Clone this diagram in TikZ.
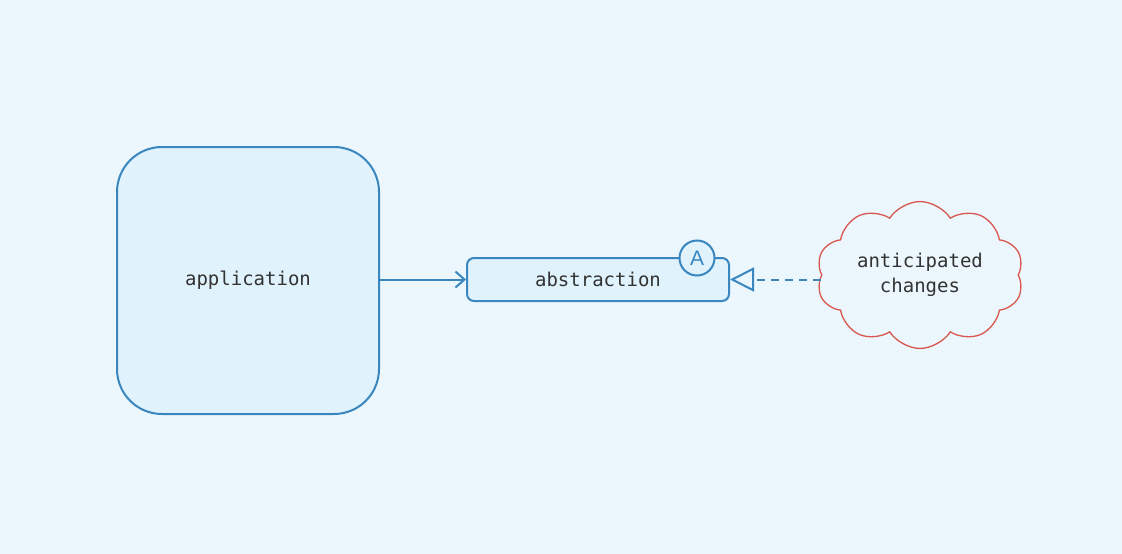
\documentclass[tikz,border=0pt]{standalone}
\usepackage{fontspec}
\setmonofont{DejaVu Sans Mono}
\newfontfamily\labelfont{Liberation Sans}
\usetikzlibrary{shapes.symbols,arrows.meta}
\definecolor{bg}{HTML}{EBF7FD}
\definecolor{boxfill}{HTML}{E0F2FC}
\definecolor{blueline}{HTML}{3A87BF}
\definecolor{redline}{HTML}{D9564F}
\definecolor{txt}{HTML}{333333}
\begin{document}
\begin{tikzpicture}[x=1pt,y=-1pt,
  box/.style={draw=blueline,fill=boxfill,line width=2pt,text=txt,font=\ttfamily\fontsize{19}{23}\selectfont},
  conn/.style={draw=blueline,line width=2pt}]
\fill[bg] (0,0) rectangle (1122,554);
\useasboundingbox (0,0) rectangle (1122,554);
\node[box,rounded corners=45pt,minimum width=262pt,minimum height=267pt] (app) at (248,280.5) {application};
\node[box,rounded corners=7pt,minimum width=262pt,minimum height=43pt] (abs) at (598,279.5) {abstraction};
\node[draw=blueline,fill=boxfill,line width=2pt,circle,minimum size=35pt,inner sep=0pt,text=blueline,font=\labelfont\fontsize{21}{24}\selectfont] (A) at (697,258) {A};
\node[cloud,cloud puffs=10,cloud puff arc=115,aspect=1.45,draw=redline,fill=bg,line width=1.3pt,minimum width=207pt,minimum height=144pt,inner sep=0pt,align=center,text=txt,font=\ttfamily\fontsize{19}{25}\selectfont] (cl) at (920,275) {anticipated\\changes};
\draw[conn,-{Straight Barb[length=9pt,width=16pt,line width=2pt]}] (app.east |- abs.west) -- (abs.west);
\draw[conn,dash pattern=on 8pt off 6pt,-{Triangle[open,length=24pt,width=24pt,line width=2pt]}] (cl.west |- abs.east) -- (abs.east);
\end{tikzpicture}
\end{document}
